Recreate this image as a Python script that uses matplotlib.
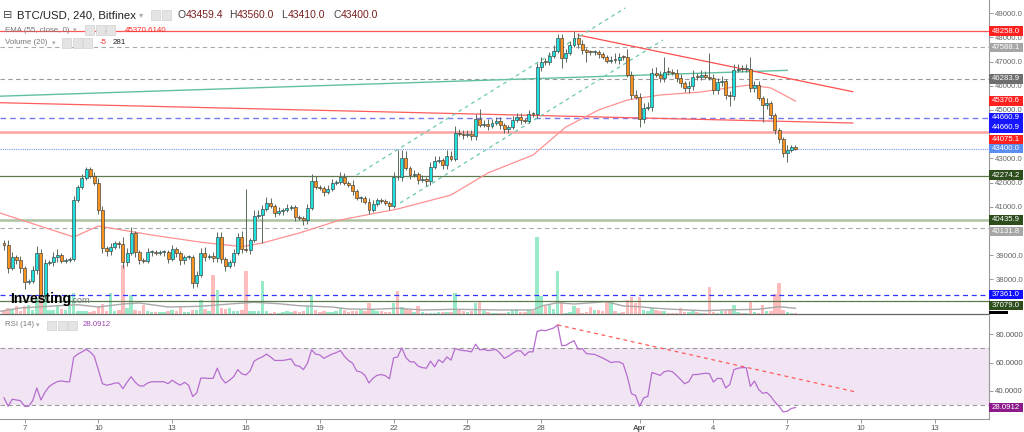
import numpy as np
import matplotlib
matplotlib.use("Agg")
import matplotlib.pyplot as plt
import matplotlib.transforms as mtransforms
from matplotlib.patches import Rectangle
from matplotlib.ticker import FormatStrFormatter

plt.rcParams['font.family'] = ['Liberation Sans', 'DejaVu Sans']

# ---- BTC/USD 4h candles, Mar 6 04:00 -> Apr 7 08:00 ----
first_open = 39480
closes = [
    39414, 38463, 38918, 38794, 38463, 37884, 37925, 38380, 39083, 37346,
    38669, 38711, 38918, 39001, 38752, 38794, 38835, 41276, 41814, 42186,
    42559, 42269, 41979, 40862, 39290, 39166, 39332, 39497, 39456, 38711,
    39083, 39911, 39125, 38794, 38752, 39125, 39125, 39083, 39125, 39125,
    38835, 39249, 39083, 38794, 38918, 38918, 37842, 38173, 39083, 38918,
    38959, 38876, 39745, 38835, 38545, 38711, 39083, 39745, 39249, 39208,
    39621, 40614, 40655, 40904, 41152, 41028, 40738, 40821, 40862, 40945,
    40986, 40573, 40531, 40449, 40945, 42062, 41814, 41772, 41607, 41731,
    41979, 42021, 42227, 41979, 41896, 41648, 41358, 41358, 41193, 40862,
    41110, 41276, 41234, 41152, 41028, 42227, 42210, 43013, 42600, 42310,
    42352, 42103, 42145, 42062, 42641, 42889, 42931, 42724, 43096, 42971,
    44048, 44007, 43965, 44007, 43924, 44627, 44379, 44420, 44337, 44462,
    44544, 44379, 44213, 44296, 44586, 44710, 44586, 44544, 44834, 44830,
    46778, 46985, 46975, 47233, 47440, 47978, 47151, 47357, 47688, 47978,
    47730, 47482, 47399, 47390, 47399, 47316, 47192, 47027, 47068, 47060,
    47192, 47185, 46447, 45620, 45537, 44627, 45082, 45123, 46530, 46447,
    46323, 46571, 46565, 46530, 46323, 46116, 45910, 45992, 46364, 46360,
    46447, 46364, 46340, 45827, 46158, 46199, 45620, 45578, 46654, 46695,
    46690, 46695, 45910, 46034, 45496, 45206, 45289, 44793, 44172, 43800,
    43220, 43345, 43460, 43400]
up_wick = [
    150, 200, 200, 100, 150, 100, 100, 150, 300, 150,
    150, 100, 200, 250, 100, 100, 100, 150, 100, 150,
    100, 100, 150, 200, 150, 100, 150, 100, 100, 300,
    200, 250, 100, 100, 100, 150, 100, 100, 100, 100,
    100, 150, 100, 100, 100, 100, 100, 150, 200, 250,
    100, 150, 200, 200, 100, 100, 150, 150, 250, 2480,
    100, 250, 200, 150, 250, 200, 100, 150, 100, 150,
    100, 100, 100, 100, 150, 300, 200, 100, 100, 150,
    150, 100, 200, 150, 100, 200, 100, 100, 100, 150,
    150, 100, 100, 100, 100, 200, 1120, 350, 300, 100,
    150, 100, 150, 100, 200, 200, 150, 100, 250, 200,
    300, 150, 150, 150, 150, 200, 400, 150, 200, 150,
    150, 150, 100, 100, 150, 150, 150, 100, 150, 100,
    150, 200, 150, 150, 250, 170, 150, 150, 150, 280,
    200, 150, 100, 100, 100, 100, 100, 100, 150, 300,
    150, 100, 350, 150, 200, 150, 200, 200, 200, 250,
    150, 620, 200, 150, 150, 150, 100, 200, 300, 150,
    200, 150, 1000, 150, 150, 200, 100, 150, 250, 200,
    150, 200, 500, 150, 150, 100, 200, 100, 100, 100,
    100, 200, 100, 100]
down_wick = [
    200, 200, 100, 150, 200, 300, 100, 100, 150, 80,
    150, 100, 150, 200, 100, 100, 100, 100, 100, 100,
    100, 100, 100, 150, 200, 200, 150, 100, 150, 250,
    150, 100, 200, 150, 100, 100, 150, 100, 100, 150,
    150, 100, 150, 200, 150, 100, 200, 150, 100, 150,
    100, 150, 150, 150, 200, 100, 150, 100, 150, 100,
    150, 100, 100, 1160, 100, 100, 150, 100, 150, 100,
    100, 150, 100, 200, 150, 100, 100, 100, 150, 100,
    100, 100, 100, 100, 100, 150, 100, 150, 100, 150,
    100, 100, 100, 100, 150, 100, 100, 150, 100, 150,
    100, 150, 100, 200, 150, 100, 100, 150, 150, 100,
    100, 100, 150, 100, 150, 150, 100, 100, 150, 100,
    100, 150, 150, 150, 100, 100, 150, 100, 100, 100,
    150, 150, 100, 100, 100, 100, 400, 150, 100, 100,
    150, 150, 400, 100, 100, 150, 100, 100, 100, 100,
    150, 100, 100, 150, 100, 330, 150, 100, 150, 100,
    150, 150, 100, 100, 150, 150, 150, 200, 150, 100,
    100, 100, 100, 150, 150, 150, 150, 410, 150, 100,
    100, 100, 150, 150, 100, 700, 150, 150, 150, 150,
    150, 370, 100, 50]
volumes = [
    420, 840, 560, 1120, 420, 1120, 1260, 560, 2240, 6860,
    2660, 560, 560, 1260, 700, 560, 2660, 2940, 420, 420,
    420, 280, 420, 1120, 1400, 420, 2940, 420, 560, 6860,
    840, 2660, 560, 420, 1260, 420, 280, 280, 280, 280,
    420, 560, 420, 1120, 280, 280, 560, 560, 1960, 700,
    420, 5460, 3360, 840, 700, 840, 420, 420, 560, 6020,
    420, 420, 420, 4620, 420, 140, 280, 140, 280, 420,
    280, 420, 280, 420, 1120, 2660, 560, 280, 420, 280,
    280, 420, 840, 560, 280, 420, 420, 560, 420, 1540,
    700, 420, 420, 280, 280, 1540, 3220, 980, 700, 560,
    280, 1120, 280, 140, 140, 140, 280, 280, 280, 280,
    2940, 700, 420, 280, 420, 1540, 1680, 420, 280, 140,
    140, 140, 140, 280, 560, 700, 280, 280, 560, 420,
    10780, 2520, 1120, 1260, 700, 6020, 1680, 140, 280, 1120,
    840, 140, 280, 980, 560, 560, 420, 1680, 1680, 420,
    140, 280, 1960, 2380, 1540, 2380, 560, 420, 840, 560,
    420, 420, 140, 140, 140, 840, 280, 280, 420, 280,
    140, 140, 3780, 280, 140, 420, 420, 560, 1260, 280,
    140, 140, 1820, 280, 140, 1260, 420, 420, 2800, 4340,
    560, 280, 140, 140]
vol_ma_idx = [-1, 4, 11, 18, 23, 29, 33, 40, 48, 56, 61, 67, 72, 80, 84, 90, 96,
              102, 110, 121, 129, 131, 135, 139, 147, 151, 155, 159, 163, 171,
              175, 184, 189, 193]
vol_ma = [380, 840, 1080, 1300, 980, 1400, 1540, 980, 1080, 1440, 1640, 1440,
          1160, 980, 700, 660, 800, 560, 660, 560, 560, 1120, 1580, 1400, 1720,
          1120, 1020, 800, 660, 460, 560, 660, 1020, 800]
ema_idx = [-1, 17, 23, 36, 48, 58, 63, 72, 82, 87, 96, 109, 118, 129, 137, 145,
           152, 160, 170, 178, 182, 187, 193]
ema_val = [40738, 39745, 40200, 39828, 39530, 39344, 39497, 39911, 40449, 40614,
           40904, 41483, 42393, 43138, 44296, 45000, 45413, 45620, 45744, 45951,
           46034, 45910, 45371]
rsi = [
    35, 29, 34, 33.5, 33, 29, 29, 33, 42, 33.5,
    39, 43, 45, 46.5, 47, 46.4, 46.4, 63.7, 66, 67.5,
    69.4, 67.5, 64.5, 55, 45, 44, 44.5, 45.5, 45.5, 41.5,
    46, 50, 46, 43.5, 43.4, 45.5, 46.4, 46.4, 46.4, 46.4,
    45, 47.5, 45.5, 44, 46, 44, 36, 38.5, 49, 49,
    48.8, 48.8, 56, 49, 45.5, 47.5, 50, 55, 52, 51.2,
    54, 61, 62.8, 64, 66, 64, 61.5, 61.5, 61.5, 62,
    62.6, 58, 57.5, 55, 59.5, 69, 66, 65.4, 63, 64.5,
    66, 67, 68.5, 64.5, 61.5, 59.5, 54, 53.3, 51, 45.5,
    49, 51, 51.5, 50.7, 48.5, 63.3, 64, 70.5, 63.6, 60.5,
    60.5, 57.5, 56.4, 56, 61, 57, 62, 60, 64, 61.7,
    70, 69, 68.5, 68.2, 67.6, 73, 69, 69.3, 68.5, 68.8,
    69.3, 66.5, 63, 64.5, 66.5, 68.3, 68.3, 65, 67.6, 67.6,
    82, 83, 82.6, 83.5, 84.5, 86.7, 72, 72.2, 74, 75.5,
    69.5, 69.8, 66.4, 66, 65.8, 64.5, 63.2, 61.7, 60, 60.5,
    60.5, 59, 50, 38, 36.7, 29, 35, 36, 53, 52,
    50.9, 53.5, 54.2, 53.5, 50.9, 48, 45, 46.5, 51.5, 51.5,
    52, 52.4, 52.2, 46.2, 48.8, 48.7, 42, 44.5, 55, 56,
    56.4, 56.4, 43.1, 46.9, 41, 38.2, 38.8, 36, 32, 29,
    25, 25.5, 27.5, 28.0912]

# horizontal levels drawn by the analyst
levels = [48258.0, 47588.1, 46283.9, 44660.9, 44075.1, 43400.0,
          42274.2, 40435.9, 40131.8, 37361.0, 37079.0]
# trend lines (candle index, price)
teal_x, teal_y = [-1, 191], [45570, 46640]
red_long_x, red_long_y = [-1, 207], [45301, 44461]
red_top_x, red_top_y = [140, 207], [48102, 45756]
chan_up_x, chan_up_y = [86, 151.5], [42310, 49219]
chan_lo_x, chan_lo_y = [96.6, 160.7], [41152, 47895]
rsi_trend_x, rsi_trend_y = [135, 208], [86.7, 39]

date_ticks = [5, 23, 41, 59, 77, 95, 113, 131, 155, 173, 191, 209, 227]
date_labels = ['7', '10', '13', '16', '19', '22', '25', '28', 'Apr', '4', '7', '10', '13']
# price ticks whose labels are not hidden behind the level tags
price_ticks = [38000, 39000, 41000, 42000, 43000, 45000, 46000, 47000, 48000, 49000]

W, H = 1024, 432
XLIM = (-0.98, 240.2)
PLIM = (36560, 49550)
RLIM = (20, 93)


def frac(x0, y0, w, h):
    return [x0 / W, 1 - (y0 + h) / H, w / W, h / H]


fig = plt.figure(figsize=(W / 100, H / 100), dpi=100)
axv = fig.add_axes(frac(0, 0, 989, 314))
ax = fig.add_axes(frac(0, 0, 989, 314))
axr = fig.add_axes(frac(0, 316, 989, 103))
ax.patch.set_alpha(0)

n = len(closes)
idx = np.arange(n)
c = np.array(closes, float)
o = np.r_[first_open, c[:-1]]
hi = np.maximum(o, c) + np.array(up_wick)
lo = np.minimum(o, c) - np.array(down_wick)
up = c >= o

# volume underlay
axv.bar(idx, volumes, width=0.85, color=np.where(up, '#98eac8', '#ffbcbc'), lw=0)
axv.plot(vol_ma_idx, vol_ma, color='#a8a8a8', lw=1.0)
axv.set_xlim(*XLIM)
axv.set_ylim(0, 314 * 140)
axv.axis('off')

# levels
lvl_style = [
    dict(color='#ff5555', lw=0.9, ls='-'),
    dict(color='#aaaaaa', lw=0.8, ls=(0, (4, 3))),
    dict(color='#999999', lw=0.8, ls=(0, (4, 3))),
    dict(color='#7777ee', lw=1.0, ls=(0, (4, 3))),
    dict(color='#ffa3a3', lw=1.8, ls='-'),
    dict(color='#7799ee', lw=0.8, ls=(0, (1, 1))),
    dict(color='#5d7a4d', lw=0.9, ls='-'),
    dict(color='#aec3a2', lw=1.8, ls='-'),
    dict(color='#aaaaaa', lw=0.8, ls=(0, (4, 3))),
    dict(color='#3333ff', lw=0.9, ls=(0, (4, 3))),
    dict(color='#5d7a4d', lw=0.9, ls='-'),
]
for lv, st in zip(levels, lvl_style):
    ax.axhline(lv, zorder=2, **st)

ax.plot(teal_x, teal_y, color='#62bfa2', lw=1.0, zorder=3)
ax.plot(red_long_x, red_long_y, color='#ff5c5c', lw=0.9, zorder=3)
ax.plot(red_top_x, red_top_y, color='#ff4d4d', lw=0.9, zorder=3)
ax.plot(chan_up_x, chan_up_y, color='#6cc9ad', lw=0.9, ls=(0, (3, 3)), zorder=3)
ax.plot(chan_lo_x, chan_lo_y, color='#6cc9ad', lw=0.9, ls=(0, (3, 3)), zorder=3)
ax.plot(ema_idx, ema_val, color='#ff9090', lw=0.9, zorder=3)

# candles
ax.vlines(idx, lo, hi, color='#5b6b5b', lw=0.7, zorder=4)
ax.bar(idx, np.maximum(np.abs(c - o), 35), bottom=np.minimum(o, c), width=0.72,
       color=np.where(up, '#1fe2df', '#f7931e'), edgecolor='#3a3a3a',
       linewidth=0.45, zorder=5)

ax.set_xlim(*XLIM)
ax.set_ylim(*PLIM)
ax.set_xticks([])
ax.yaxis.tick_right()
ax.set_yticks(price_ticks)
ax.yaxis.set_major_formatter(FormatStrFormatter('%.1f'))
ax.tick_params(axis='y', direction='out', length=3, width=0.6, colors='#888888',
               labelcolor='#666666', labelsize=5.6, pad=1.5)
for s in ['left', 'top']:
    ax.spines[s].set_visible(False)
ax.spines['right'].set_color('#999999')
ax.spines['right'].set_linewidth(0.8)
ax.spines['bottom'].set_color('#666666')
ax.spines['bottom'].set_linewidth(0.9)


def tag(axis, y, text, color, hpx, upp):
    tr = mtransforms.blended_transform_factory(axis.transAxes, axis.transData)
    hh = hpx * upp
    axis.add_patch(Rectangle((1.0, y - hh / 2), 34 / 989, hh, transform=tr,
                             fc=color, ec='none', clip_on=False, zorder=10))
    axis.text(1.0 + 17 / 989, y, text, transform=tr, ha='center', va='center',
              color='white', fontsize=5.6, clip_on=False, zorder=11)


ppx = (PLIM[1] - PLIM[0]) / 314
tags = [
    (48258, '48258.0', '#ff2020'), (47588, '47588.1', '#a6a6a6'),
    (46284, '46283.9', '#6e6e6e'), (45372, '45370.6', '#ff2020'),
    (44669, '44660.9', '#1515ff'), (44255, '44660.9', '#1515ff'),
    (43779, '44075.1', '#ff2020'), (43400, '43400.0', '#5a8ef0'),
    (42310, '42274.2', '#2d4d1d'), (40449, '40435.9', '#2d4d1d'),
    (39973, '40131.8', '#a6a6a6'), (37358, '37361.0', '#1010ff'),
    (36911, '37079.0', '#2d4d1d'),
]
for y, t, col in tags:
    tag(ax, y, t, col, 9.5, ppx)
tr = mtransforms.blended_transform_factory(ax.transAxes, ax.transData)
ax.add_patch(Rectangle((1.0, PLIM[0]), 19 / 989, 2.5 * ppx, transform=tr,
                       fc='black', ec='none', clip_on=False, zorder=10))

# RSI panel
axr.fill_between([XLIM[0], XLIM[1]], 30, 70, color='#f1e5f3', lw=0)
axr.axhline(70, color='#9a9a9a', lw=0.8, ls=(0, (4, 3)))
axr.axhline(30, color='#9a9a9a', lw=0.8, ls=(0, (4, 3)))
axr.plot(idx, rsi, color='#b56ccf', lw=0.9)
axr.plot(rsi_trend_x, rsi_trend_y, color='#ff5a5a', lw=0.9, ls=(0, (3, 3)))
axr.set_xlim(*XLIM)
axr.set_ylim(*RLIM)
axr.yaxis.tick_right()
axr.set_yticks([40, 60, 80])
axr.yaxis.set_major_formatter(FormatStrFormatter('%.4f'))
axr.set_xticks(date_ticks)
axr.set_xticklabels(date_labels)
axr.tick_params(axis='both', direction='out', length=3, width=0.6, colors='#888888',
                labelcolor='#555555', labelsize=5.6, pad=1.5)
for lbl in axr.get_xticklabels():
    if lbl.get_text() == 'Apr':
        lbl.set_fontweight('bold')
for s in ['left', 'top']:
    axr.spines[s].set_visible(False)
for s in ['right', 'bottom']:
    axr.spines[s].set_color('#999999')
    axr.spines[s].set_linewidth(0.8)
tag(axr, rsi[-1], '28.0912', '#8c1a8c', 9.5, (RLIM[1] - RLIM[0]) / 103)


# header texts (pixel positions)
def ftext(x, y, s, **kw):
    fig.text(x / W, 1 - y / H, s, va='center', **kw)


def icons(x0, y, count):
    for k in range(count):
        fig.add_artist(Rectangle(((x0 + k * 10.5) / W, 1 - (y + 4.5) / H), 9 / W, 9 / H,
                                 transform=fig.transFigure, fc='#e4e4e4',
                                 ec='#d0d0d0', lw=0.5))


ftext(3, 15, '\u229f', fontsize=8, color='#444444', family='DejaVu Sans')
ftext(17, 15, 'BTC/USD, 240, Bitfinex', fontsize=8.2, color='#222222')
ftext(139, 15, '\u25be', fontsize=6, color='#aaaaaa', family='DejaVu Sans')
icons(151, 15, 2)
hx = 177
for letter, gap, val in [('O', 8.5, '43459.4'), ('H', 8, '43560.0'),
                         ('L', 6.5, '43410.0'), ('C', 8, '43400.0')]:
    ftext(hx, 15, letter, fontsize=7.5, color='#444444')
    ftext(hx + gap, 15, val, fontsize=7.5, color='#7a1f1f')
    hx += 52

ftext(5, 30, 'EMA (55, close, 0)', fontsize=5.7, color='#777777')
ftext(73, 30, '\u25be', fontsize=5, color='#aaaaaa', family='DejaVu Sans')
icons(85, 30, 3)
ftext(125, 30, '45370.6140', fontsize=5.7, color='#ff2a2a')

ftext(5, 43, 'Volume (20)', fontsize=5.7, color='#777777')
ftext(52, 43, '\u25be', fontsize=5, color='#aaaaaa', family='DejaVu Sans')
icons(62, 43, 3)
ftext(100, 43, '-5', fontsize=5.7, color='#ff2a2a')
ftext(113, 43, '281', fontsize=5.7, color='#222222')

ftext(5, 325, 'RSI (14)', fontsize=5.6, color='#777777')
ftext(36, 325, '\u25be', fontsize=5, color='#aaaaaa', family='DejaVu Sans')
icons(47, 325, 3)
ftext(83, 325, '28.0912', fontsize=5.6, color='#a040b0')

fig.text(10 / W, 1 - 303 / H, 'Investing', fontsize=10, fontweight='bold',
         color='black', va='baseline')
fig.text(70 / W, 1 - 303 / H, '.com', fontsize=6.5, color='#777777', va='baseline')

fig.savefig('out.png', dpi=100)
